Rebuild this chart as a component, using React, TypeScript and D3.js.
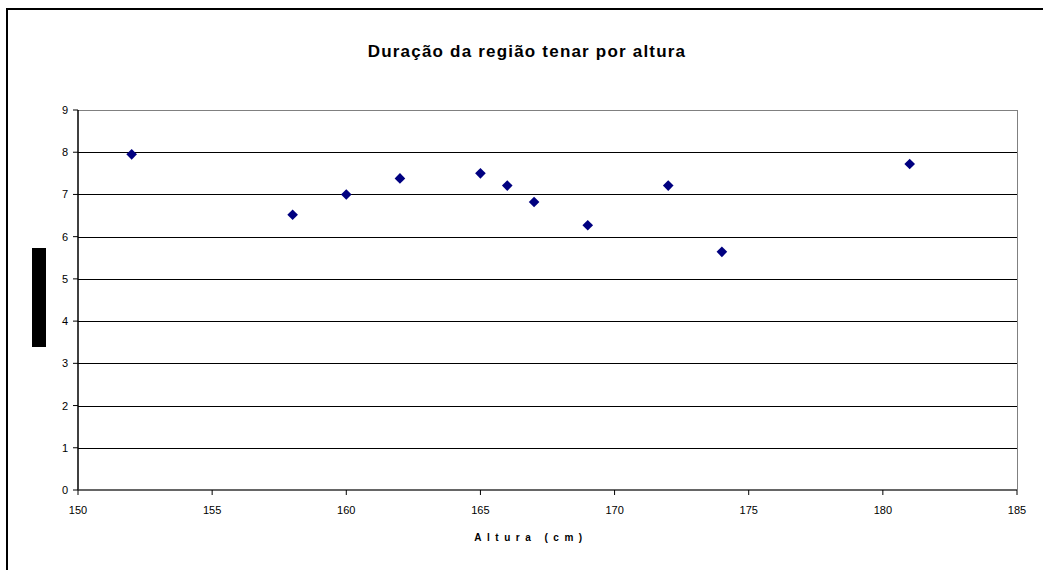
import React from "react";
import * as d3 from "d3";

// Altura (cm) and duração da região tenar
const alturas = [152, 158, 160, 162, 165, 166, 167, 169, 172, 174, 181];
const duracoes = [7.95, 6.52, 7.0, 7.38, 7.5, 7.21, 6.82, 6.27, 7.21, 5.64, 7.72];
const xTicks = [150, 155, 160, 165, 170, 175, 180, 185];
const yTicks = [0, 1, 2, 3, 4, 5, 6, 7, 8, 9];

const titulo = "Duração da região tenar por altura";
const rotuloX = "Altura (cm)";

const W = 1043;
const H = 570;
const plot = { left: 78, right: 1017, top: 110, bottom: 490 };

export default function App() {
  const x = d3.scaleLinear().domain([150, 185]).range([plot.left, plot.right]);
  const y = d3.scaleLinear().domain([0, 9]).range([plot.bottom, plot.top]);
  const diamond = d3.symbol().type(d3.symbolDiamond2).size(72)();
  const font = "Arial, 'Liberation Sans', sans-serif";

  return (
    <svg
      width={W}
      height={H}
      style={{ position: "absolute", left: 0, top: 0, background: "#fff" }}
      fontFamily={font}
    >
      {/* outer chart frame */}
      <rect x={7} y={9} width={1100} height={700} fill="none" stroke="#000" strokeWidth={2} />

      <text x={527} y={57} textAnchor="middle" fontSize={17} fontWeight="bold" letterSpacing={1.2}>
        {titulo}
      </text>

      {/* horizontal gridlines */}
      {yTicks.slice(1).map((t) => (
        <line
          key={"g" + t}
          x1={plot.left}
          x2={plot.right}
          y1={Math.round(y(t)) + 0.5}
          y2={Math.round(y(t)) + 0.5}
          stroke={t === 9 ? "#808080" : "#000"}
          strokeWidth={1}
        />
      ))}
      {/* plot area right border */}
      <line x1={plot.right + 0.5} x2={plot.right + 0.5} y1={plot.top} y2={plot.bottom} stroke="#808080" />

      {/* axes */}
      <line x1={plot.left} x2={plot.left} y1={plot.top} y2={plot.bottom} stroke="#000" strokeWidth={1.5} />
      <line x1={plot.left} x2={plot.right} y1={plot.bottom} y2={plot.bottom} stroke="#333" strokeWidth={1.5} />

      {yTicks.map((t) => (
        <g key={"y" + t}>
          <line x1={plot.left - 5} x2={plot.left} y1={y(t)} y2={y(t)} stroke="#000" />
          <text x={plot.left - 10} y={y(t) + 4} textAnchor="end" fontSize={11}>
            {t}
          </text>
        </g>
      ))}
      {xTicks.map((t) => (
        <g key={"x" + t}>
          <line x1={x(t)} x2={x(t)} y1={plot.bottom} y2={plot.bottom + 5} stroke="#000" />
          <text x={x(t)} y={plot.bottom + 24} textAnchor="middle" fontSize={11}>
            {t}
          </text>
        </g>
      ))}

      <text x={531} y={541} textAnchor="middle" fontSize={10} fontWeight="bold" letterSpacing={5.5}>
        {rotuloX}
      </text>

      {/* y-axis title block */}
      <rect x={32} y={248} width={14} height={99} fill="#000" />

      {alturas.map((a, i) => (
        <path key={"p" + i} d={diamond} transform={`translate(${x(a)},${y(duracoes[i])})`} fill="#000080" />
      ))}
    </svg>
  );
}
